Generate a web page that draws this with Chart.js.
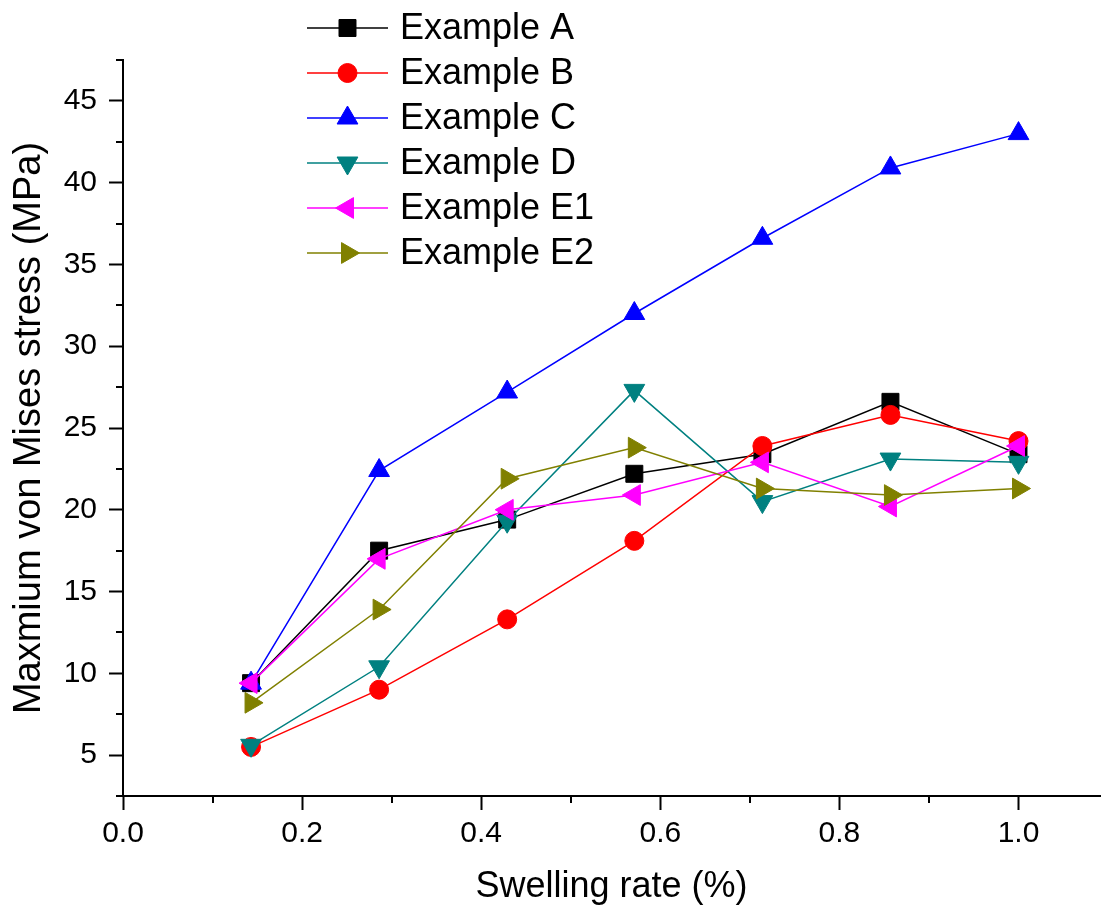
<!DOCTYPE html>
<html>
<head>
<meta charset="utf-8">
<script src="https://cdn.jsdelivr.net/npm/chart.js@4/dist/chart.umd.min.js"></script>
<style>
  html, body { margin: 0; padding: 0; background: #fff; overflow: hidden; }
</style>
</head>
<body>
<canvas id="myChart" width="1113" height="909"></canvas>
<script>
// values
const swellingRate = [0.143, 0.286, 0.429, 0.571, 0.714, 0.857, 1.0];
const exampleA  = [9.4, 17.5, 19.4, 22.2, 23.4, 26.6, 23.4];
const exampleB  = [5.5, 9.0, 13.3, 18.1, 23.9, 25.8, 24.2];
const exampleC  = [9.4, 22.4, 27.2, 32.0, 36.6, 40.9, 43.0];
const exampleD  = [5.6, 10.4, 19.3, 27.3, 20.5, 23.1, 22.9];
const exampleE1 = [9.4, 17.0, 20.0, 20.9, 22.9, 20.2, 23.9];
const exampleE2 = [8.2, 13.9, 21.9, 23.8, 21.3, 20.9, 21.3];

const seriesNames = ['Example A', 'Example B', 'Example C', 'Example D', 'Example E1', 'Example E2'];
const xMajorTicks = [0.0, 0.2, 0.4, 0.6, 0.8, 1.0];
const xMinorTicks = [0.1, 0.3, 0.5, 0.7, 0.9];
const yMajorTicks = [5, 10, 15, 20, 25, 30, 35, 40, 45];
const yMinorTicks = [2.5, 7.5, 12.5, 17.5, 22.5, 27.5, 32.5, 37.5, 42.5, 47.5];

const FONT = 'Arial, "Liberation Sans", sans-serif';

const styles = [
  { color: '#000000', pointStyle: 'rect',     radius: 12,  rotation: 0 },
  { color: '#ff0000', pointStyle: 'circle',   radius: 9.5, rotation: 0 },
  { color: '#0000ff', pointStyle: 'triangle', radius: 12,  rotation: 0 },
  { color: '#008080', pointStyle: 'triangle', radius: 12,  rotation: 180 },
  { color: '#ff00ff', pointStyle: 'triangle', radius: 12,  rotation: -90 },
  { color: '#808000', pointStyle: 'triangle', radius: 12,  rotation: 90 }
];

const allSeries = [exampleA, exampleB, exampleC, exampleD, exampleE1, exampleE2];

function pointsOf(values) {
  return values.map((v, i) => ({ x: swellingRate[i], y: v }));
}

const datasets = allSeries.map((values, i) => ({
  label: seriesNames[i],
  data: pointsOf(values),
  borderColor: styles[i].color,
  backgroundColor: styles[i].color,
  borderWidth: 1.5,
  pointStyle: styles[i].pointStyle,
  pointRadius: styles[i].radius,
  pointRotation: styles[i].rotation,
  pointBorderWidth: 1,
  pointBackgroundColor: styles[i].color,
  pointBorderColor: styles[i].color,
  order: allSeries.length - i  // later series drawn on top
}));

// short minor ticks between the labelled ones
const minorTicks = {
  id: 'minorTicks',
  afterDraw(chart) {
    const ctx = chart.ctx;
    const xs = chart.scales.x, ys = chart.scales.y;
    ctx.save();
    ctx.strokeStyle = '#000';
    ctx.lineWidth = 2;
    ctx.beginPath();
    xMinorTicks.forEach(v => {
      const px = Math.round(xs.getPixelForValue(v));
      ctx.moveTo(px, xs.top);
      ctx.lineTo(px, xs.top + 7);
    });
    yMinorTicks.forEach(v => {
      const py = Math.round(ys.getPixelForValue(v));
      ctx.moveTo(ys.right, py);
      ctx.lineTo(ys.right - 7, py);
    });
    ctx.stroke();
    ctx.restore();
  }
};

// Origin-like legend: line with the marker in the middle
const lineLegend = {
  id: 'lineLegend',
  afterDraw(chart) {
    const ctx = chart.ctx;
    const x0 = 307, x1 = 388, textX = 400, top = 28, rowGap = 45;
    ctx.save();
    chart.data.datasets.forEach((ds, i) => {
      const y = top + i * rowGap;
      ctx.strokeStyle = ds.borderColor;
      ctx.lineWidth = 1.5;
      ctx.beginPath();
      ctx.moveTo(x0, y);
      ctx.lineTo(x1, y);
      ctx.stroke();
      ctx.fillStyle = ds.pointBackgroundColor;
      ctx.strokeStyle = ds.pointBorderColor;
      ctx.lineWidth = 1;
      Chart.helpers.drawPoint(ctx, {
        pointStyle: ds.pointStyle,
        rotation: ds.pointRotation,
        radius: ds.pointRadius,
        borderWidth: 1
      }, (x0 + x1) / 2, y);
      ctx.fillStyle = '#000';
      ctx.font = '36px ' + FONT;
      ctx.textBaseline = 'middle';
      ctx.textAlign = 'left';
      ctx.fillText(ds.label, textX, y + 1);
    });
    ctx.restore();
  }
};

new Chart('myChart', {
  type: 'line',
  data: { datasets: datasets },
  options: {
    responsive: false,
    devicePixelRatio: 1,
    animation: false,
    layout: { padding: { top: 60, right: 0, left: 0, bottom: 0 } },
    plugins: {
      legend: { display: false },
      tooltip: { enabled: false }
    },
    scales: {
      x: {
        type: 'linear',
        min: 0,
        max: 1.091,
        afterFit(scale) { scale.height = 113; },
        afterBuildTicks(scale) { scale.ticks = xMajorTicks.map(v => ({ value: v })); },
        grid: { display: true, drawOnChartArea: false, tickLength: 14, tickWidth: 2, tickColor: '#000' },
        border: { display: true, color: '#000', width: 2 },
        ticks: {
          padding: 6,
          color: '#000',
          font: { family: FONT, size: 30 },
          maxRotation: 0,
          autoSkip: false,
          callback: v => Number(v).toFixed(1)
        },
        title: {
          display: true,
          text: 'Swelling rate (%)',
          color: '#000',
          font: { family: FONT, size: 36 },
          padding: { top: 0, bottom: 0 }
        }
      },
      y: {
        min: 2.5,
        max: 47.5,
        afterFit(scale) { scale.width = 123; },
        afterBuildTicks(scale) { scale.ticks = yMajorTicks.map(v => ({ value: v })); },
        grid: { display: true, drawOnChartArea: false, tickLength: 14, tickWidth: 2, tickColor: '#000' },
        border: { display: true, color: '#000', width: 2 },
        ticks: {
          padding: 12,
          color: '#000',
          font: { family: FONT, size: 30 },
          autoSkip: false,
          callback: v => String(v)
        },
        title: {
          display: true,
          text: 'Maxmium von Mises stress (MPa)',
          color: '#000',
          font: { family: FONT, size: 38 },
          padding: { top: 7, bottom: 0 }
        }
      }
    }
  },
  plugins: [minorTicks, lineLegend]
});
</script>
</body>
</html>
